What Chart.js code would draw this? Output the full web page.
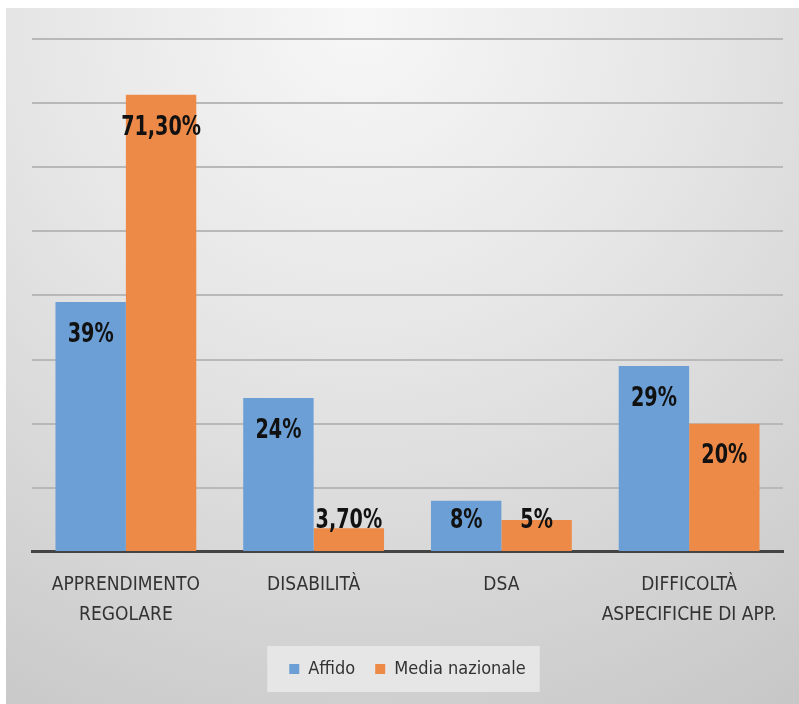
<!DOCTYPE html>
<html>
<head>
<meta charset="utf-8">
<script src="https://cdn.jsdelivr.net/npm/chart.js@4/dist/chart.umd.min.js"></script>
<style>
  html, body { margin: 0; padding: 0; background: #fff; }
  #wrap { width: 799px; height: 704px; position: relative; }
</style>
</head>
<body>
<div id="wrap"><canvas id="myChart"></canvas></div>
<script>
//========================= Data ==================================//
const categories = [
  ['APPRENDIMENTO', 'REGOLARE'],
  ['DISABILITÀ'],
  ['DSA'],
  ['DIFFICOLTÀ', 'ASPECIFICHE DI APP.']
];
const affido = [39, 24, 8, 29];
const mediaNazionale = [71.3, 3.7, 5, 20];
const seriesNames = ['Affido', 'Media nazionale'];

const FONT = "'Liberation Sans Narrow', 'DejaVu Sans Condensed', sans-serif";

function fmt(v) {
  return (v % 1 ? v.toFixed(2).replace('.', ',') : String(v)) + '%';
}

/***************************************************************
* Background panel
****************************************************************/
const panelBg = {
  id: 'panelBg',
  beforeDraw(chart) {
    const c = chart.ctx;
    c.save();
    c.fillStyle = '#ffffff';
    c.fillRect(0, 0, chart.width, chart.height);
    const g = c.createRadialGradient(360, 20, 0, 360, 20, 820);
    g.addColorStop(0, '#f7f7f7');
    g.addColorStop(0.4, '#e6e6e6');
    g.addColorStop(1, '#c6c6c6');
    c.fillStyle = g;
    c.fillRect(6, 8, chart.width - 6, chart.height - 8);
    // legend box
    const lg = chart.legend;
    if (lg && lg.legendHitBoxes && lg.legendHitBoxes.length) {
      const hb = lg.legendHitBoxes;
      const x0 = hb[0].left - 22;
      const x1 = hb[hb.length - 1].left + hb[hb.length - 1].width + 14;
      const y0 = hb[0].top + hb[0].height / 2 - 23;
      c.fillStyle = 'rgba(232,232,232,0.9)';
      c.fillRect(x0, y0, x1 - x0, 46);
    }
    c.restore();
  }
};

/***************************************************************
* Value labels (narrowed like the original font)
****************************************************************/
const valueLabels = {
  id: 'valueLabels',
  afterDatasetsDraw(chart) {
    const c = chart.ctx;
    const sx = 0.82;
    c.save();
    c.font = 'bold 26px ' + FONT;
    c.fillStyle = '#111';
    c.textAlign = 'center';
    c.textBaseline = 'middle';
    chart.data.datasets.forEach((ds, i) => {
      chart.getDatasetMeta(i).data.forEach((bar, j) => {
        const y = Math.min(bar.y + 33, 521);
        c.save();
        c.translate(bar.x, y);
        c.scale(sx, 1);
        c.fillText(fmt(ds.data[j]), 0, 0);
        c.restore();
      });
    });
    c.restore();
  }
};

/***************************************************************
* Bar Chart
****************************************************************/
const ctx = document.getElementById('myChart').getContext('2d');

const myChart = new Chart(ctx, {
  type: 'bar',
  data: {
    labels: categories,
    datasets: [{
      label: seriesNames[0],
      data: affido,
      backgroundColor: '#6b9fd6',
      categoryPercentage: 0.75,
      barPercentage: 1
    }, {
      label: seriesNames[1],
      data: mediaNazionale,
      backgroundColor: '#ee8a48',
      categoryPercentage: 0.75,
      barPercentage: 1
    }]
  },
  options: {
    responsive: true,
    maintainAspectRatio: false,
    animation: false,
    layout: { padding: { left: 32, right: 16, top: 39, bottom: 16 } },
    plugins: {
      legend: {
        position: 'bottom',
        labels: {
          boxWidth: 10,
          boxHeight: 10,
          padding: 20,
          color: '#333',
          font: { family: FONT, size: 18 }
        }
      },
      tooltip: { enabled: false }
    },
    scales: {
      x: {
        grid: { display: false },
        border: { color: '#444', width: 3 },
        ticks: {
          color: '#333',
          padding: 10,
          maxRotation: 0,
          autoSkip: false,
          font: { family: FONT, size: 19, lineHeight: 1.58 }
        }
      },
      y: {
        min: 0,
        max: 80,
        ticks: { display: false, stepSize: 10 },
        border: { display: false },
        grid: { color: '#b8b8b8', lineWidth: 2, drawTicks: false }
      }
    }
  },
  plugins: [panelBg, valueLabels]
});
</script>
</body>
</html>
